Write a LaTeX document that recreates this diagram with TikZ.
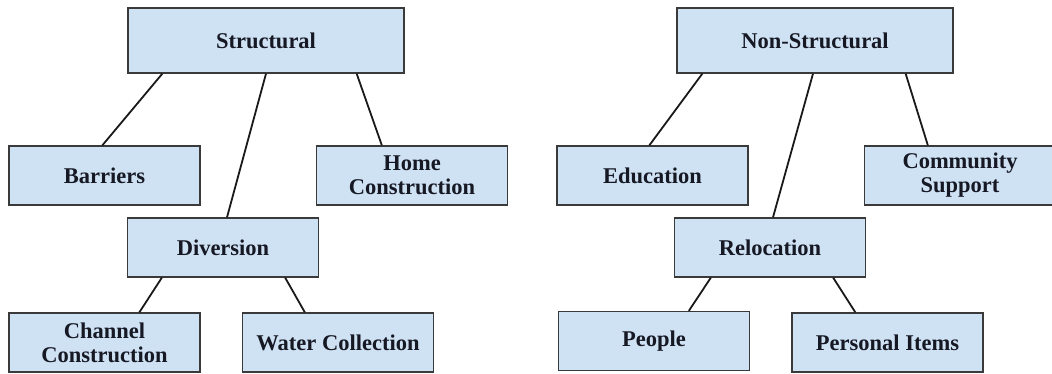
\documentclass[tikz,border=0pt]{standalone}
\usepackage{fontspec}
\setmainfont{Liberation Serif}
\definecolor{boxfill}{HTML}{CFE2F3}
\definecolor{boxline}{HTML}{3A3A3A}
\definecolor{boxtext}{HTML}{161824}
\tikzset{
  box/.style={draw=boxline, line width=1.3pt, fill=boxfill, text=boxtext,
    font=\fontsize{22.5}{24}\selectfont\bfseries, align=center,
    inner sep=0pt, minimum width=191pt, minimum height=59pt},
  topbox/.style={box, minimum width=276pt, minimum height=65pt},
  link/.style={draw=black!90, line width=1.8pt}
}
\begin{document}
\begin{tikzpicture}[x=1pt,y=-1pt]
\clip (0,0) rectangle (1052,374);
\useasboundingbox (0,0) rectangle (1052,374);
% left tree
\node[topbox] (s) at (266,40.5) {Structural};
\node[box] (b) at (104.5,175.5) {Barriers};
\node[box] (h) at (412,175.5) {Home\\Construction};
\node[box] (d) at (223,247.5) {Diversion};
\node[box] (c) at (104.5,342.5) {Channel\\Construction};
\node[box] (w) at (338,342.5) {Water Collection};
% right tree
\node[topbox] (ns) at (815,40.5) {Non-Structural};
\node[box] (e) at (652.5,175.5) {Education};
\node[box] (cs) at (960,175.5) {Community\\Support};
\node[box] (r) at (770,247.5) {Relocation};
\node[box] (p) at (654,341) {People};
\node[box] (pi) at (887.5,342.5) {Personal Items};
% connectors
\draw[link] ([xshift=35pt]s.south west) -- ([xshift=94pt]b.north west);
\draw[link] (s.south) -- ([xshift=4pt]d.north);
\draw[link] ([xshift=-48pt]s.south east) -- ([xshift=66pt]h.north west);
\draw[link] ([xshift=35pt]d.south west) -- ([xshift=131pt]c.north west);
\draw[link] ([xshift=-34pt]d.south east) -- ([xshift=63pt]w.north west);
\draw[link] ([xshift=26pt]ns.south west) -- ([xshift=93pt]e.north west);
\draw[link] ([xshift=-2pt]ns.south) -- ([xshift=3pt]r.north);
\draw[link] ([xshift=-48pt]ns.south east) -- ([xshift=64pt]cs.north west);
\draw[link] ([xshift=37pt]r.south west) -- ([xshift=131pt]p.north west);
\draw[link] ([xshift=-33pt]r.south east) -- ([xshift=64pt]pi.north west);
\end{tikzpicture}
\end{document}
